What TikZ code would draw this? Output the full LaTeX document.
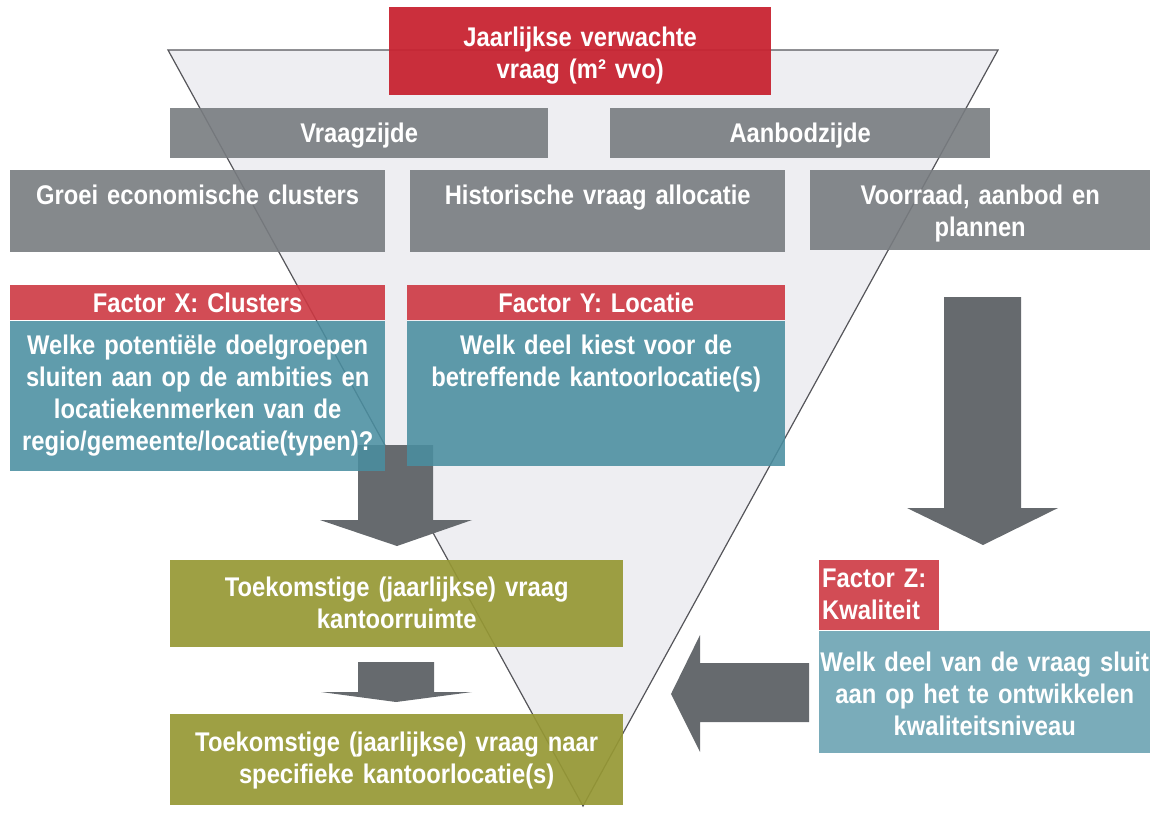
\documentclass[tikz,border=0pt]{standalone}
\usepackage{fontspec}
\setmainfont{Liberation Sans}[FakeStretch=0.88, WordSpace=0.8]
\usetikzlibrary{positioning}

\definecolor{titlered}{RGB}{200,36,50}
\definecolor{factorred}{RGB}{205,56,66}
\definecolor{boxgrey}{RGB}{120,124,128}
\definecolor{tealbody}{RGB}{74,142,160}
\definecolor{tealz}{RGB}{104,160,176}
\definecolor{olivebox}{RGB}{150,152,52}
\definecolor{arrowgrey}{RGB}{102,106,110}
\definecolor{trifill}{RGB}{238,238,242}
\definecolor{triline}{RGB}{85,85,90}

\begin{document}
\begin{tikzpicture}[x=1pt, y=-1pt,
	every node/.style={font=\bfseries\fontsize{27}{32}\selectfont, text=white,
		inner sep=0pt, align=center, anchor=north west},
	dims/.style n args={3}{text width=#1, text height=#2, text depth=#3},
	redtitle/.style={fill=titlered, fill opacity=0.95, text opacity=1},
	greybox/.style={fill=boxgrey, fill opacity=0.9, text opacity=1},
	redhead/.style={fill=factorred, fill opacity=0.9, text opacity=1},
	tealbox/.style={fill=tealbody, fill opacity=0.88, text opacity=1},
	olive/.style={fill=olivebox, fill opacity=0.92, text opacity=1}]
	\useasboundingbox (0,0) rectangle (1150,815);

	% funnel
	\filldraw[fill=trifill, draw=triline, line width=1.2pt]
		(168,50) -- (998,50) -- (583,806) -- cycle;

	% block arrows
	\fill[arrowgrey] (358,445) -- (433,445) -- (433,520) -- (472,520)
		-- (397,546) -- (320,520) -- (358,520) -- cycle;
	\fill[arrowgrey] (944,297) -- (1021,297) -- (1021,508) -- (1058,508)
		-- (983,545) -- (907,508) -- (944,508) -- cycle;
	\fill[arrowgrey] (358,662) -- (434,662) -- (434,692) -- (472,692)
		-- (396,702) -- (321,692) -- (358,692) -- cycle;
	\fill[arrowgrey] (809,663) -- (809,722) -- (700,722) -- (700,752)
		-- (671,694) -- (700,635) -- (700,663) -- cycle;

	\node[redtitle, dims={382pt}{39pt}{49pt}] (vraag) at (389,7)
		{Jaarlijkse verwachte\\vraag (m² vvo)};

	\node[greybox, dims={378pt}{34pt}{16pt}] (vzijde) at (170,108) {Vraagzijde};
	\node[greybox, dims={380pt}{34pt}{16pt}] (azijde) at (610,108) {Aanbodzijde};

	\node[greybox, dims={375pt}{34pt}{48pt}] (groei) at (10,170)
		{Groei economische clusters};
	\node[greybox, dims={375pt}{34pt}{48pt}] (histo) at (410,170)
		{Historische vraag allocatie};
	\node[greybox, dims={340pt}{34pt}{46pt}] (voorraad) at (810,170)
		{Voorraad, aanbod en\\plannen};

	% factoren
	\node[redhead, dims={375pt}{27pt}{8pt}] (hdrX) at (10,285) {Factor X: Clusters};
	\node[tealbox, dims={375pt}{34pt}{116pt}, below=0pt of hdrX] (facX)
		{Welke potentiële doelgroepen\\sluiten aan op de ambities en\\
		locatiekenmerken van de\\regio/gemeente/locatie(typen)?};
	\node[redhead, dims={378pt}{27pt}{8pt}] (hdrY) at (407,285) {Factor Y: Locatie};
	\node[tealbox, dims={378pt}{34pt}{111pt}, below=0pt of hdrY] (facY)
		{Welk deel kiest voor de\\betreffende kantoorlocatie(s)};

	\node[redhead, dims={114pt}{27pt}{43pt}, inner xsep=3pt, align=left] (hdrZ)
		at (819,560) {Factor Z:\\Kwaliteit};
	\node[tealbox, fill=tealz, dims={331pt}{41pt}{81pt},
		below=0pt of hdrZ.south west, anchor=north west] (facZ)
		{Welk deel van de vraag sluit\\aan op het te ontwikkelen\\kwaliteitsniveau};

	% uitkomst
	\node[olive, dims={453pt}{36pt}{51pt}] (toek) at (170,560)
		{Toekomstige (jaarlijkse) vraag\\kantoorruimte};
	\node[olive, dims={453pt}{37pt}{54pt}] (spec) at (170,714)
		{Toekomstige (jaarlijkse) vraag naar\\specifieke kantoorlocatie(s)};
\end{tikzpicture}
\end{document}
